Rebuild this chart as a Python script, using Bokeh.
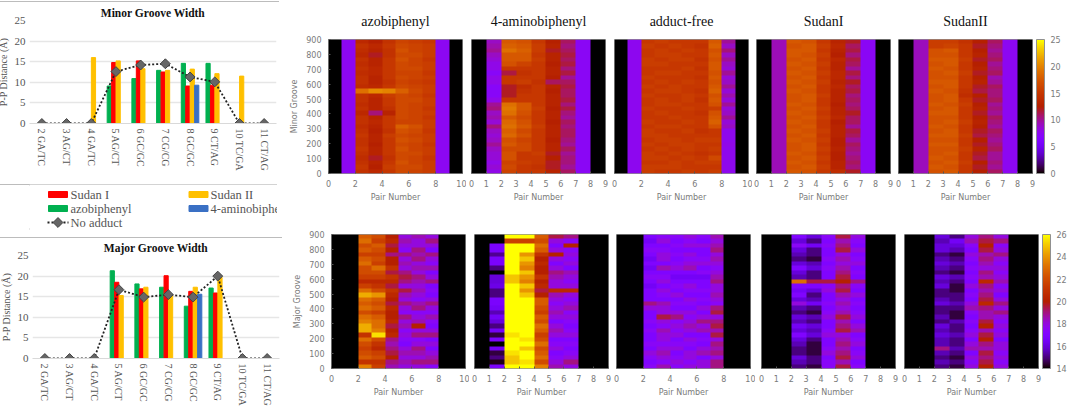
import math
import numpy as np
from bokeh.core.properties import value
from bokeh.embed import file_html
from bokeh.layouts import column, row
from bokeh.models import (ColorBar, ColumnDataSource, FactorRange, FixedTicker,
                          LinearColorMapper, Range1d)
from bokeh.plotting import figure
from bokeh.resources import INLINE
from bokeh.transform import dodge

# bar charts
sites = ['2 GA/TC', '3 AG/CT', '4 GA/TC', '5 AG/CT', '6 GC/GC', '7 CG/CG', '8 GC/GC', '9 CT/AG', '10 TC/GA', '11 CT/AG']
minor_azo_bar = [0, 0, 0, 9.1, 10.9, 12.9, 14.6, 14.6, 0, 0]
minor_s1_bar = [0, 0, 0, 14.8, 15.2, 12.5, 9.1, 9.3, 0, 0]
minor_s2_bar = [0, 0, 16.0, 15.2, 13.3, 12.9, 13.2, 12.1, 11.5, 0]
minor_ab_bar = [0, 0, 0, 0, 0, 0, 9.3, 0, 0, 0]
minor_none = [0, 0, 0, 12.6, 14.2, 14.5, 11.3, 10.1, 0, 0]
major_azo_bar = [0, 0, 0, 21.3, 18.1, 17.3, 12.7, 17.1, 0, 0]
major_s1_bar = [0, 0, 0, 18.5, 16.9, 20.1, 16.3, 15.9, 0, 0]
major_s2_bar = [0, 0, 0, 15.3, 17.3, 15.3, 17.3, 19.7, 0, 0]
major_ab_bar = [0, 0, 0, 0, 0, 0, 15.6, 0, 0, 0]
major_none = [0, 0, 0, 16.7, 14.9, 15.5, 14.9, 20.0, 0, 0]
bar_ticks = [0, 5, 10, 15, 20, 25]
legend_labels = ['Sudan I', 'azobiphenyl', 'Sudan II', '4-aminobiphenyl']
legend_colors = ['#ff0000', '#00b050', '#ffc000', '#3a70c4']

# heatmaps: one entry per pair column, rows run from frame 900 down to 0
minor_azo = [0, 7.6,
    [13.5,14.5,14,13.5,14.5,14,14.5,14,14.5,14.5,14,19,14.5,14.5,14,14.5,13.5,14.5,14.5,14,14.5,15,14.5,14.5,15,14.5,14,14.5,15,14.5],
    [12.5,13.5,13,12,13,13,13.5,13.5,13,13,13.5,20.5,13.5,13,13,13,10.5,13,13.5,13,12.5,13,13,12.5,13,13,12,13,12.5,13.5],
    [14.5,15,14.5,14.5,15,15,15,15,15,14.5,15,20,15.5,15,15,14.5,13,15,15,15,14.5,15.5,15,15,15,15,14.5,15,15.5,15],
    [16,16.5,17,16.5,17,16.5,16.5,16,16.5,16,16.5,18,16.5,16.5,16.5,16.5,16.5,16.5,16,18,17,16.5,17,16.5,17,16.5,16.5,17,16.5,16.5],
    [15.5,16,16,16.5,16,16,16.5,16,16,15.5,16,16.5,16,16.5,16,16,16,16,16,17,16.5,16,16.5,16,16,16.5,16,16,16.5,16],
    [15,15.5,15.5,15.5,15,15.5,15.5,15,15.5,15,15.5,15.5,15,15.5,15.5,15,15.5,15,15.5,15.5,15,15.5,15.5,15,15.5,15.5,15,15.5,15.5,15.5],
    7.6, 0]
minor_4ab = [0,
    [9,9.5,10,9,8.5,8,8,7.2,8,8,7.2,7.2,7.2,8,10,10.5,9,9.5,8.5,10.5,9,8.5,9,10,9,8.5,8.5,8,8.5,8],
    [17.5,18,19,17.5,17.5,17,15,11.5,15,15,12,12,12,15,19,19.5,19,17.5,18.5,19,18,18.5,17,17.5,16.5,17,17,16,16.5,16],
    [17,17.5,18,17.5,17.5,16,15,14.5,15,15.5,14,14.5,15,15,17.5,17.5,17,16.5,17,17.5,16.5,17,16,16.5,16.5,15,15,15.5,15,15],
    [15,15.5,15.5,15,15.5,15,15,15,15,14.5,15,15,15,15,15,15.5,15,15,15,15.5,15,15,15,15,15,15.5,15,15,14.5,15],
    [12.5,13,12,13,13,12.5,13,13,12.5,11,13,12.5,13,13,13,12.5,13,13,12.5,13,13,13,12.5,13,13,12,12.5,12,12,13],
    [11,10.5,11,11.5,11,11.5,10.5,11.5,10,11,11.5,11,11,11.5,10.5,11.5,10.5,10,11,10.5,11,11,10.5,10,11,10,10.5,10.5,10,11],
    7.4, 0]
minor_free = [0, 7.7,
    [15,15.5,15,15,15.5,15.5,15,15,15.5,15,15.5,15,15.5,15,15,15.5,15,15,15.5,15,15.5,15.5,15,15.5,15,15.5,15.5,15,15.5,15.5],
    [15.5,15,15.5,15.5,15,15.5,15,15.5,15,15.5,15,15.5,15,15.5,15.5,15,15.5,15,15,15.5,15,15.5,15.5,15,15.5,15,15.5,15,15.5,15],
    [15,15.5,15,15.5,15.5,15,15,15.5,15,15,15.5,15.5,15,15,15.5,15,15,15.5,15,15.5,15,15,15.5,15.5,15,15.5,15,15.5,15.5,15],
    [15,15,15.5,15,15.5,15,15.5,15,15,15.5,15,15,15.5,15.5,15,15.5,15,15,15.5,15,15.5,15,15,15.5,15.5,15,15.5,15,15,15.5],
    [15,14.5,15,15,14.5,15,14.5,15,14.5,15,15,14.5,15,14.5,15,15,14.5,15,15,15,14.5,15,15.5,15,15,14.5,15,15.5,15,15],
    [17.5,18,17,17.5,17,17.5,17.5,17,17.5,17,17.5,18,17,17.5,17,15.5,17,17.5,18,17,15,15,15.5,15,15.5,15,16.5,15.5,15,15.5],
    [10,9,10.5,9,10,9,8.5,10,8.5,9,10,8.5,9.5,8.5,10,8.5,9,10,8.5,9,7.8,7.8,7.8,8,7.8,7.8,7.8,7.8,7.8,7.8],
    0]
minor_s1 = [0, 9.3,
    [17.5,17,17.5,17.5,17,17.5,17,17.5,17,17.5,17,17.5,17,17,17.5,17,17.5,17,17.5,17,17.5,17,17.5,17,17,17.5,17,17.5,17,17.5],
    [17,17.5,17.5,17,17.5,17,17.5,17,17.5,17,17.5,17,17.5,17.5,17,17.5,17,17.5,17,17.5,17,17.5,17,17.5,17.5,17,17.5,17,17.5,17],
    [15,15.5,15,15.5,15,15.5,15,15.5,15,15.5,15,15,15.5,15,15,15.5,15,15.5,15,15,15.5,15,15.5,15,15.5,15,15.5,15,15.5,15],
    [13,13.5,13,12.5,13.5,13,13,13.5,13.5,13,13.5,13,13,13,12.5,13,13,13.5,12.5,13,13,13,12.5,12.5,13,12.5,12.5,13,13,14],
    [12,11,11.5,10.5,11.5,11,10,11.5,10.5,12,11,11.5,10.5,11,10.5,11,12,11,11,10,11.5,11,10,11,10.5,10,10.5,11,10.5,12],
    7.4, 0]
minor_s2 = [0, 9.2,
    [15.5,15.5,17,17,17.5,17,17.5,17,17,17.5,17,17.5,17,17,17.5,17,17.5,17,17,17.5,17,17.5,17,17.5,17,17,17.5,17,17.5,17],
    [15.5,16,17.5,17,17.5,17.5,17,17.5,17,17.5,17.5,17,17.5,17.5,17,17.5,17.5,17,17.5,17,17.5,17.5,17,17.5,17,17.5,17,17.5,17,17.5],
    [14.5,15,15,15,15.5,15,15,15.5,15,15,15,14.5,14,15,15.5,15,15,15,15.5,15,15,15.5,15,15,15.5,15,15,15.5,15,15],
    [12.5,12,12.5,13,12,12.5,13,12,12.5,13,12,11.5,12.5,12,12.5,13,12,12.5,13,12.5,12,11.5,12.5,12,13,12,11.5,12.5,12,12.5],
    [11,10.5,10,10.5,11,10,10.5,11,9.5,10,11,10.5,10.5,11,10,10.5,10,11,10.5,10,11,10.5,10,10.5,11,10,10,10.5,10,11],
    7.6, 0]

major_azo = [14, 14,
    [22.5,23,22,22.5,21.5,22.5,23,22,22,21.5,20.5,21.5,23,24.5,23,22.5,23,22,23,23.5,24.5,24.5,21,23,22,21.5,22,22.5,21,23.5],
    [22,21.5,22.5,22,21.5,22,21.5,23,22,21.5,20.5,21,22,24,22.5,22,22.5,21.5,22.5,23,23,23.5,25.5,22,21,20.5,21.5,22,21,21.5],
    [20,20.5,19.5,20,19,20,20,21,19.5,21,20.5,19.5,21,20.5,20,19.5,20.5,20,20,20.5,19.5,20,20.5,19,18.5,19,19.5,20,19,18.5],
    [18,18.5,18,17.5,19,18,18.5,18,19,19.5,19,18,19.5,18.5,18,19,18,17.5,19,18,18.5,17.5,18,17.5,17,18,18.5,18,18.5,18],
    [18.5,18,18,19,18.5,19,18,18.5,18,19,18.5,18,18.5,18,17.5,18.5,19,17.5,18,18.5,20,18,19,17.5,18,19,18.5,18,19,18],
    [18,19,18,17,19,18,17.5,18.5,17,18,19,17,17.5,17,18,19,18,17.5,18.5,17.5,17,18,19,17,18,17,18,18.5,19,17.5],
    14, 14]
major_4ab = [14,
    [14,14,16.8,16.8,15.2,16.8,16.8,15,14,16,16,16.2,15,15,16.8,16.8,16.5,15.5,16.5,16,15,16.5,14.5,16.8,14,16.5,14.5,15,14.2,16.8],
    [26,21.5,26,26,26,26,26,26,26,25,25,26,26,26,26,26,26,26,26,26,26,26,25.5,26,26,26,25.5,25,25,26],
    [26,21.5,26,26,24,25,24,23.5,25,24,23.5,25,24,25,26,26,26,26,26,26,26,26,26,25.5,26,25,26,26,25.5,26],
    [22.5,22,23,22.5,21,20,20.5,20,20,21,20,20.5,19.5,20,22.5,22.5,22,21.5,22.5,22,23,22.5,21.5,22,23,22,22.5,23,22,23.5],
    [19.5,18,17,18,20,18,17,18,19,18.5,18,18,20.5,18.5,18,17.5,18,18.5,18,17,18,18.5,18,17,17.5,18,17,17.5,18,18.5],
    [19,17.5,20,17.5,18,17.5,18,17,18.5,18,17.5,18,20.5,18,17.5,18,18.5,17.5,18,17.5,17,17.5,18,17,17.5,17,17.5,18,19,18],
    14, 14]
major_free = [14, 14,
    [17,16.5,17,17.5,17,16.5,17,16.5,17,17.5,17,16.5,17,17,17,19,18,17,17,17.5,17,17.5,17,17,17.5,17,18,17.5,17,17.5],
    [17.5,18,17,17.5,18,18,17,18.5,17,17.5,18,17,18,17.5,17,18.5,18,18,19.5,18,17.5,18.5,18,18,17.5,18,18.5,18,17.5,18.5],
    [17.5,17,17.5,17,17.5,17,17.5,18,17,16.5,17,17.5,17,18,17,17.5,17,18,19,17.5,18,17.5,18,17,17.5,18,17,17.5,18,17.5],
    [18,17.5,18,17,18,17.5,18,18.5,17,16.5,17,18,17.5,17,18,17.5,17,18,17.5,18,18.5,18,17,18,17.5,17,18,18,17.5,18],
    [17.5,17,18,17,17,17.5,18,17,17.5,16.5,17,17,17.5,17,17.5,17,18,17,18,19,18,18.5,17,17.5,17,18,18.5,17,18,18],
    [18.5,18,18.5,19,18,18.5,18,17.5,18,18.5,19,18,18,18.5,18,17.5,19,19.5,18,19,19.5,18.5,19.5,18,19,18.5,19,18,19,19],
    14, 14]
major_s1 = [14, 14,
    [17,16,17.5,16,15.5,15,16,17,16,15.5,23,17,16.5,17,16,18,15.5,15,16,15.5,16.5,16,17,16,15.5,15,15,16,15.5,15],
    [16,15,16.5,15,15,14.5,15.5,16,15,15,19.5,17,16,15,15.5,16.5,15,14.5,15.5,15,16,15.5,16,15,14.5,14.5,14.5,15,15,14.5],
    [17.5,17,17.5,17,17,17.5,17,17.5,17,17,19.5,17.5,18,17,17,17.5,17,17.5,18,17,17,17.5,18,17,17,17.5,18,17,17.5,17.5],
    [19.5,18.5,19,19.5,18,18.5,18,18.5,19,19.5,20,19,19.5,18.5,18,18.5,18,18.5,19.5,18.5,19,19.5,18,18.5,19,18.5,19,19.5,18.5,19.5],
    [18,17.5,17,18,17,17.5,18,17,17.5,17,19,17.5,17,18,17,17.5,17,17.5,18,17,18,18.5,17,17.5,18,17,17.5,18,17,17.5],
    14, 14]
major_s2 = [14, 14,
    [16,15.5,16,16,15,15.5,16,15.5,15,16,15.5,16,15,15,15.5,16,15,15,15.5,15,16,15.5,16,15.5,15.5,19,15.5,15,15.5,15],
    [15,16.5,16,15.5,14.5,15,15.5,15,14.5,15.5,15,14.5,14.5,15,15,15.5,15,14.5,14.5,15.5,15,15,15.5,15,15,15.5,15,14.5,15,14.5],
    [18,18.5,17.5,17,18,17.5,17,17.5,17,17.5,17,18,17,17.5,17,18,18.5,17.5,17,17.5,17,17.5,18,17,18,18.5,17,18,17.5,18],
    [19,19.5,20,19.5,18.5,19,18.5,18,19,18.5,20.5,19,18.5,19,19.5,20.5,19,18.5,18.5,19.5,20,18.5,19.5,20,19,18.5,19.5,19,19.5,20],
    [18,19,17.5,18,19,18,17.5,18,17.5,18,18.5,17.5,18,17,18,19,18,19,18,17.5,18,17.5,18,17,18,18,17.5,18,17.5,18],
    14, 14]

titles = ['azobiphenyl', '4-aminobiphenyl', 'adduct-free', 'SudanI', 'SudanII']
ticks_even = [0, 2, 4, 6, 8, 10]
ticks_all = [0, 1, 2, 3, 4, 5, 6, 7, 8, 9]
frame_ticks = [0, 100, 200, 300, 400, 500, 600, 700, 800, 900]
minor_scale = [0, 5, 10, 15, 20, 25]
major_scale = [14, 16, 18, 20, 22, 24, 26]


def gnuplot_palette():
    out = []
    for i in range(256):
        x = i / 255
        r, g, b = math.sqrt(x), x ** 3, max(math.sin(2 * math.pi * x), 0)
        out.append('#%02x%02x%02x' % (round(r * 255), round(g * 255), round(b * 255)))
    return out


GRAY = '#7a7a7a'
SERIF = 'Liberation Serif'
BOX = {'outline': '2px solid #a6a6a6', 'outline-offset': '-2px'}
palette = gnuplot_palette()
minor_mapper = LinearColorMapper(palette=palette, low=0, high=25)
major_mapper = LinearColorMapper(palette=palette, low=14, high=26)


def to_matrix(cols):
    arr = [np.full(30, float(c)) if np.isscalar(c) else np.array(c, dtype=float) for c in cols]
    return np.column_stack(arr)[::-1]


def heatmap(cols, mapper, ticks, left, right, top, bottom, title=None, ylabel=None):
    xmax = ticks[-1]
    p = figure(frame_width=134, frame_height=134, min_border_left=left, min_border_right=right,
               min_border_top=top, min_border_bottom=bottom, x_range=Range1d(0, xmax),
               y_range=Range1d(0, 900), toolbar_location=None, output_backend="svg",
               y_axis_type="linear" if ylabel else None)
    p.image(image=[to_matrix(cols)], x=0, y=0, dw=xmax, dh=900, color_mapper=mapper)
    p.grid.visible = False
    p.outline_line_color = '#909090'
    axes = [p.xaxis[0]] + ([p.yaxis[0]] if ylabel else [])
    for ax in axes:
        ax.axis_line_color = None
        ax.major_tick_line_color = '#555555'
        ax.major_tick_in = 2
        ax.major_tick_out = 0
        ax.minor_tick_line_color = None
        ax.major_label_text_font = 'DejaVu Sans'
        ax.major_label_text_font_size = '8px'
        ax.major_label_text_color = GRAY
        ax.axis_label_text_font = 'DejaVu Sans'
        ax.axis_label_text_font_size = '8px'
        ax.axis_label_text_font_style = 'normal'
        ax.axis_label_text_color = GRAY
    p.xaxis.ticker = FixedTicker(ticks=ticks)
    p.xaxis.axis_label = 'Pair Number'
    p.xaxis.major_label_standoff = 6
    p.xaxis.axis_label_standoff = 3
    if ylabel:
        p.yaxis.ticker = FixedTicker(ticks=frame_ticks)
        p.yaxis.axis_label = ylabel
        p.yaxis.major_label_standoff = 7
        p.yaxis.axis_label_standoff = 4
    if title:
        p.title.text = title
        p.title.text_font = SERIF
        p.title.text_font_size = '14px'
        p.title.text_font_style = 'normal'
        p.title.text_color = '#111111'
        p.title.align = 'center'
        p.title.standoff = 22
    return p


def colorbar(p, mapper, ticks):
    cb = ColorBar(color_mapper=mapper, ticker=FixedTicker(ticks=ticks), width=8, location=(4, 0),
                  margin=0, padding=0, label_standoff=6, major_label_text_font='DejaVu Sans',
                  major_label_text_font_size='8px', major_label_text_color=GRAY,
                  major_tick_line_color=None, bar_line_color='#909090')
    p.add_layout(cb, 'right')


def bars(title, azo, s1, s2, ab, none, margin, top):
    src = ColumnDataSource(dict(site=sites, azo=azo, s1=s1, s2=s2, ab=ab, none=none))
    p = figure(frame_width=247, frame_height=103, min_border_left=33,
               min_border_right=3, min_border_top=top, min_border_bottom=49,
               x_range=FactorRange(factors=sites), y_range=Range1d(0, 25),
               toolbar_location=None, output_backend="svg", margin=margin, styles=BOX)
    p.vbar(x=dodge('site', -0.27, range=p.x_range), top='azo', width=0.17, color='#00b050', source=src)
    p.vbar(x=dodge('site', -0.09, range=p.x_range), top='s1', width=0.17, color='#ff0000', source=src)
    p.vbar(x=dodge('site', 0.09, range=p.x_range), top='s2', width=0.17, color='#ffc000', source=src)
    p.vbar(x=dodge('site', 0.27, range=p.x_range), top='ab', width=0.17, color='#3a70c4', source=src)
    p.line('site', 'none', line_color='#222222', line_width=1.8, line_dash='2 2', source=src)
    p.scatter('site', 'none', marker='square', angle=math.pi / 4, size=7, fill_color='#666666',
              line_color='#444444', source=src)
    p.outline_line_color = None
    p.xgrid.visible = False
    p.ygrid.grid_line_color = '#e6e6e6'
    p.ygrid.grid_line_width = 1.5
    p.yaxis.ticker = FixedTicker(ticks=bar_ticks)
    p.yaxis.axis_line_color = None
    p.yaxis.major_tick_line_color = None
    p.yaxis.major_tick_out = 0
    p.yaxis.minor_tick_line_color = None
    p.yaxis.axis_label = 'P-P Distance (Å)'
    p.yaxis.axis_label_text_font = SERIF
    p.yaxis.axis_label_text_font_size = '10px'
    p.yaxis.axis_label_text_font_style = 'normal'
    p.yaxis.axis_label_text_color = '#555555'
    p.yaxis.axis_label_standoff = 3
    p.yaxis.major_label_text_font = SERIF
    p.yaxis.major_label_text_font_size = '11px'
    p.yaxis.major_label_text_color = '#555555'
    p.yaxis.major_label_standoff = 4
    p.xaxis.axis_line_color = '#d9d9d9'
    p.xaxis.major_tick_line_color = None
    p.xaxis.major_tick_out = 0
    p.xaxis.major_label_orientation = -math.pi / 2
    p.xaxis.major_label_text_font = SERIF
    p.xaxis.major_label_text_font_size = '10px'
    p.xaxis.major_label_text_color = '#555555'
    p.xaxis.major_label_standoff = 5
    p.title.text = title
    p.title.text_font = SERIF
    p.title.text_font_size = '11.5px'
    p.title.text_font_style = 'bold'
    p.title.text_color = '#111111'
    p.title.align = 'center'
    p.title.standoff = 4
    return p


def legend_panel():
    p = figure(frame_width=283, frame_height=46, x_range=Range1d(0, 283), y_range=Range1d(46, 0),
               x_axis_type=None, y_axis_type=None, min_border=0, toolbar_location=None,
               output_backend="svg", margin=(10, 3, 0, 2), styles=BOX)
    p.grid.visible = False
    p.outline_line_color = None
    xs = [28.5, 28.5, 169, 169]
    ys = [10, 24, 10, 24]
    p.rect(xs, ys, width=19, height=6, color=legend_colors)
    p.text([41, 41, 181, 181], ys, text=legend_labels, text_font=value(SERIF), text_font_size='12.5px',
           text_color='#555555', text_baseline='middle')
    p.line([18, 39], [38, 38], line_color='#222222', line_width=1.8, line_dash='2 2')
    p.scatter([28.5], [38], marker='square', angle=math.pi / 4, size=7, fill_color='#666666', line_color='#444444')
    p.text([41], [38], text=['No adduct'], text_font=value(SERIF), text_font_size='12.5px',
           text_color='#555555', text_baseline='middle')
    return p


minor_bars = bars('Minor Groove Width', minor_azo_bar, minor_s1_bar, minor_s2_bar, minor_ab_bar, minor_none, (1, 3, 0, 2), 19)
major_bars = bars('Major Groove Width', major_azo_bar, major_s1_bar, major_s2_bar, major_ab_bar, major_none, (7, 0, 0, 5), 18)
left_col = column(minor_bars, legend_panel(), major_bars)

t1 = heatmap(minor_azo, minor_mapper, ticks_even, 46, 4, 38, 32, titles[0], 'Minor Groove')
t2 = heatmap(minor_4ab, minor_mapper, ticks_all, 5, 4, 38, 32, titles[1])
t3 = heatmap(minor_free, minor_mapper, ticks_even, 5, 4, 38, 32, titles[2])
t4 = heatmap(minor_s1, minor_mapper, ticks_all, 4, 4, 38, 32, titles[3])
t5 = heatmap(minor_s2, minor_mapper, ticks_all, 4, 34, 38, 32, titles[4])
colorbar(t5, minor_mapper, minor_scale)

b1 = heatmap(major_azo, major_mapper, ticks_even, 49, 4, 29, 39, None, 'Major Groove')
b2 = heatmap(major_4ab, major_mapper, ticks_all, 5, 4, 29, 39)
b3 = heatmap(major_free, major_mapper, ticks_even, 4, 5, 29, 39)
b4 = heatmap(major_s1, major_mapper, ticks_all, 6, 4, 28, 40)
b5 = heatmap(major_s2, major_mapper, ticks_all, 5, 28, 28, 40)
colorbar(b5, major_mapper, major_scale)

right_col = column(row(t1, t2, t3, t4, t5), row(b1, b2, b3, b4, b5))
page = row(left_col, right_col, margin=(0, 0, 0, -8))

open("out.html", "w").write(file_html(page, INLINE))
